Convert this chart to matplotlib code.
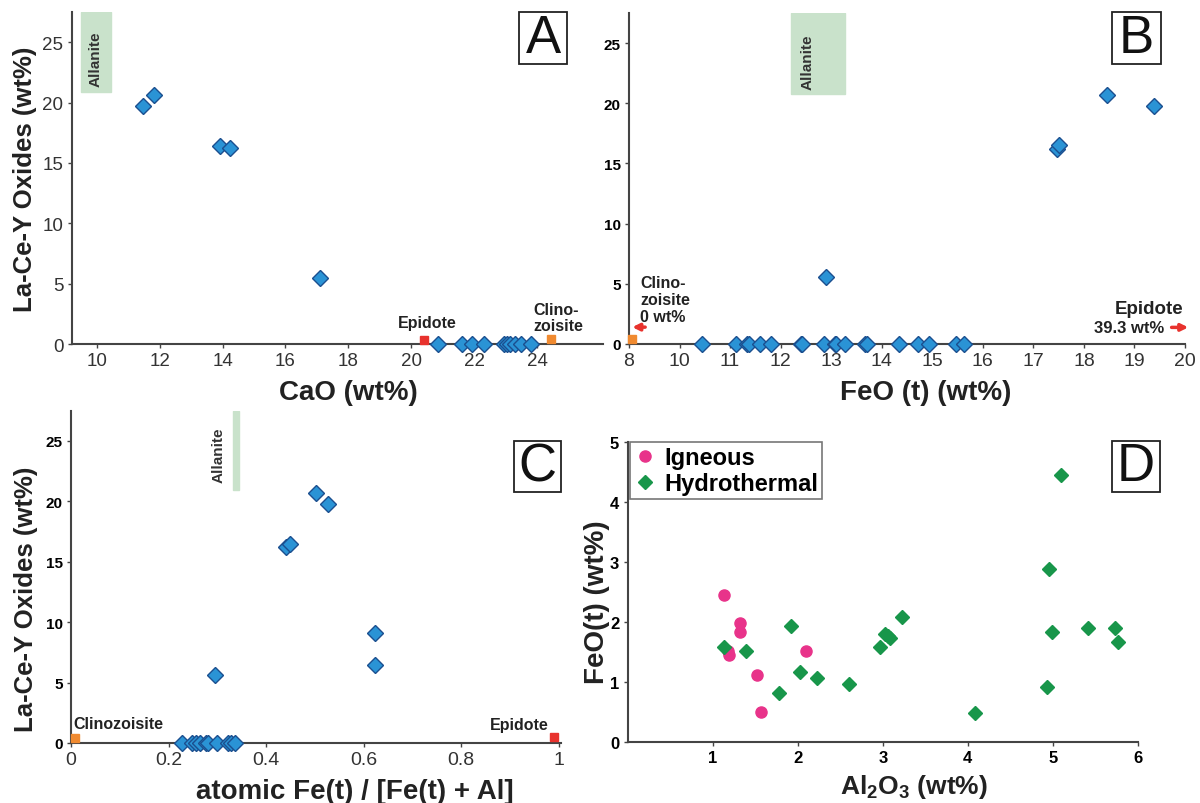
import numpy as np
import matplotlib
matplotlib.use("Agg")
import matplotlib.pyplot as plt
from matplotlib.patches import Rectangle

plt.rcParams['font.family'] = ['Liberation Sans', 'DejaVu Sans']
plt.rcParams['mathtext.fontset'] = 'custom'
plt.rcParams['mathtext.bf'] = 'Liberation Sans:bold'
plt.rcParams['mathtext.rm'] = 'Liberation Sans'

# ---- data ----
# Panel A: CaO vs La-Ce-Y oxides
cao_ree = [11.47, 11.83, 13.92, 14.22, 17.10]
ree_a = [19.7, 20.6, 16.4, 16.2, 5.5]
cao_zero = [20.85, 21.6, 21.92, 22.3, 22.95, 23.05, 23.15, 23.3, 23.5, 23.8]
cao_epidote, cao_clinozoisite = 20.4, 24.45

# Panel B: FeO(t) vs La-Ce-Y oxides
feo_ree = [17.46, 17.50, 18.46, 19.38, 12.90]
ree_b = [16.2, 16.5, 20.65, 19.8, 5.6]
feo_zero = [10.45, 11.12, 11.33, 11.38, 11.6, 11.8, 12.4, 12.42, 12.86, 13.07,
            13.1, 13.28, 13.67, 13.7, 14.35, 14.71, 14.94, 15.47, 15.63]
feo_clinozoisite = 8.1
b_ticks = [8, 10, 11, 12, 13, 14, 15, 16, 17, 18, 19, 20]

# Panel C: Fe/(Fe+Al) vs La-Ce-Y oxides
fe_ratio_ree = [0.502, 0.527, 0.441, 0.449, 0.624, 0.624, 0.296]
ree_c = [20.67, 19.79, 16.26, 16.5, 9.1, 6.42, 5.65]
fe_ratio_zero = [0.228, 0.249, 0.257, 0.264, 0.276, 0.282, 0.300, 0.321, 0.329, 0.337]
fe_ratio_clinozoisite, fe_ratio_epidote = 0.008, 0.99

# Panel D: Al2O3 vs FeO(t)
al_igneous = [1.135, 1.326, 1.326, 1.18, 1.195, 2.10, 1.52, 1.567]
fe_igneous = [2.45, 1.98, 1.84, 1.52, 1.45, 1.52, 1.11, 0.50]
al_hydro = [1.135, 1.39, 1.926, 1.777, 2.03, 2.23, 2.6, 2.963, 3.03, 3.065, 3.09,
            3.228, 4.08, 4.926, 4.953, 4.99, 5.10, 5.414, 5.73, 5.763]
fe_hydro = [1.58, 1.51, 1.93, 0.82, 1.17, 1.07, 0.96, 1.59, 1.81, 1.77, 1.74,
            2.08, 0.49, 0.92, 2.88, 1.84, 4.45, 1.91, 1.91, 1.66]

# ---- styles ----
dia = dict(marker='D', linestyle='none', markersize=8, markerfacecolor='#2a93d5',
           markeredgecolor='#1b4f8f', markeredgewidth=1, clip_on=False, zorder=5)
sq = dict(marker='s', linestyle='none', markersize=6, clip_on=False, zorder=4)
red, orange, green_box = '#e8322d', '#f08a30', '#c9e2cb'
txt = '#222222'
xl_size, yl_size = 20, 18.5

fig = plt.figure(figsize=(12, 8.04), dpi=100)
W, H = 1200, 804


def add_ax(l, r, t, b):
    return fig.add_axes([l / W, 1 - b / H, (r - l) / W, (b - t) / H])


def style(ax):
    for s in ['top', 'right']:
        ax.spines[s].set_visible(False)
    for s in ['left', 'bottom']:
        ax.spines[s].set_color('#444444')
        ax.spines[s].set_linewidth(1.5)
    ax.tick_params(length=3, width=1, color='#444444', pad=3)


def letter(l, t, r, b, s):
    fig.patches.append(Rectangle((l / W, 1 - b / H), (r - l) / W, (b - t) / H,
                                 transform=fig.transFigure, fill=False, lw=1.3,
                                 edgecolor='#222222'))
    fig.text((l + r) / 2 / W, 1 - (t + b) / 2 / H, s, ha='center', va='center',
             fontsize=38, color='#111111')


ylab = 'La-Ce-Y Oxides (wt%)'

# ---- A ----
axA = add_ax(71.7, 603, 13, 345)
style(axA)
axA.set_xlim(9.2, 26.1)
axA.set_ylim(0, 27.5)
axA.set_xticks([10, 12, 14, 16, 18, 20, 22, 24])
axA.set_yticks([0, 5, 10, 15, 20, 25])
axA.tick_params(labelsize=13.5, labelcolor='#333333')
axA.add_patch(Rectangle((9.51, 20.9), 0.93, 6.6, color=green_box, zorder=1))
axA.text(9.97, 23.7, 'Allanite', rotation=90, ha='center', va='center',
         fontsize=11, fontweight='bold', color='#333333')
axA.plot(cao_ree, ree_a, **dia)
axA.plot(cao_zero, np.zeros(len(cao_zero)), **dia)
axA.plot([cao_epidote], [0.3], color=red, **sq)
axA.plot([cao_clinozoisite], [0.4], color=orange, **sq)
axA.text(20.5, 1.75, 'Epidote', ha='center', va='center', fontsize=11.5,
         fontweight='bold', color=txt)
axA.text(23.9, 0.9, 'Clino-\nzoisite', ha='left', va='bottom', fontsize=11.5,
         fontweight='bold', color=txt, linespacing=1.1)
axA.set_xlabel('CaO (wt%)', fontsize=xl_size, fontweight='bold', color='#222222')
axA.xaxis.set_label_coords(0.52, -0.105)
axA.set_ylabel(ylab, fontsize=yl_size, fontweight='bold', color='#222222')
axA.yaxis.set_label_coords(-0.065, 0.5)

# ---- B ----
axB = add_ax(629, 1185, 14, 345)
style(axB)
fwd = lambda x: np.where(np.asarray(x) < 10, 9 + (np.asarray(x) - 8) / 2, x)
inv = lambda c: np.where(np.asarray(c) < 9.999, 8 + (np.asarray(c) - 9) * 2, c)
axB.set_xscale('function', functions=(fwd, inv))
axB.set_xlim(8, 20)
axB.set_ylim(0, 27.5)
axB.set_xticks(b_ticks)
axB.set_xticklabels([str(t) for t in b_ticks])
axB.minorticks_off()
axB.set_yticks([0, 5, 10, 15, 20, 25])
axB.tick_params(axis='x', labelsize=14, labelcolor='#333333')
axB.tick_params(axis='y', labelsize=11)
for lb in axB.get_yticklabels():
    lb.set_fontweight('bold')
axB.add_patch(Rectangle((12.2, 20.8), 1.07, 6.7, color=green_box, zorder=1))
axB.text(12.53, 23.5, 'Allanite', rotation=90, ha='center', va='center',
         fontsize=11, fontweight='bold', color='#333333')
axB.plot(feo_ree, ree_b, **dia)
axB.plot(feo_zero, np.zeros(len(feo_zero)), **dia)
axB.plot([feo_clinozoisite], [0.4], color=orange, **sq)
axB.text(8.45, 1.7, 'Clino-\nzoisite\n0 wt%', ha='left', va='bottom', fontsize=11.5,
         fontweight='bold', color=txt, linespacing=1.15)
axB.annotate('', xy=(8.02, 1.4), xytext=(8.75, 1.4),
             arrowprops=dict(arrowstyle='-|>', color=red, lw=2.5, mutation_scale=10),
             annotation_clip=False)
axB.text(19.96, 2.95, 'Epidote', ha='right', va='center', fontsize=13.5,
         fontweight='bold', color=txt)
axB.text(19.58, 1.38, '39.3 wt%', ha='right', va='center', fontsize=12,
         fontweight='bold', color=txt)
axB.annotate('', xy=(20.12, 1.38), xytext=(19.68, 1.38),
             arrowprops=dict(arrowstyle='-|>', color=red, lw=2.5, mutation_scale=10),
             annotation_clip=False)
axB.set_xlabel('FeO (t) (wt%)', fontsize=xl_size, fontweight='bold', color='#222222')
axB.xaxis.set_label_coords(0.534, -0.105)

# ---- C ----
axC = add_ax(71, 561, 411.7, 744)
style(axC)
axC.set_xlim(0, 1.005)
axC.set_ylim(0, 27.5)
axC.set_xticks([0, 0.2, 0.4, 0.6, 0.8, 1])
axC.set_xticklabels(['0', '0.2', '0.4', '0.6', '0.8', '1'])
axC.set_yticks([0, 5, 10, 15, 20, 25])
axC.tick_params(axis='x', labelsize=14, labelcolor='#333333')
axC.tick_params(axis='y', labelsize=11)
for lb in axC.get_yticklabels():
    lb.set_fontweight('bold')
axC.add_patch(Rectangle((0.332, 20.9), 0.013, 6.6, color=green_box, zorder=1))
axC.text(0.303, 23.9, 'Allanite', rotation=90, ha='center', va='center',
         fontsize=11, fontweight='bold', color='#333333')
axC.plot(fe_ratio_ree, ree_c, **dia)
axC.plot(fe_ratio_zero, np.zeros(len(fe_ratio_zero)), **dia)
axC.plot([fe_ratio_clinozoisite], [0.4], color=orange, **sq)
axC.plot([fe_ratio_epidote], [0.5], color=red, **sq)
axC.text(0.004, 1.6, 'Clinozoisite', ha='left', va='center', fontsize=11.5,
         fontweight='bold', color=txt)
axC.text(0.98, 1.5, 'Epidote', ha='right', va='center', fontsize=11.5,
         fontweight='bold', color=txt)
axC.set_xlabel('atomic Fe(t) / [Fe(t) + Al]', fontsize=xl_size, fontweight='bold',
               color='#222222')
axC.xaxis.set_label_coords(0.58, -0.105)
axC.set_ylabel(ylab, fontsize=yl_size, fontweight='bold', color='#222222')
axC.yaxis.set_label_coords(-0.067, 0.435)

# ---- D ----
axD = add_ax(627.6, 1138, 443.3, 743)
style(axD)
axD.set_xlim(0, 6)
axD.set_ylim(0, 5)
axD.set_xticks([1, 2, 3, 4, 5, 6])
axD.set_yticks([0, 1, 2, 3, 4, 5])
axD.tick_params(labelsize=12)
for lb in axD.get_xticklabels() + axD.get_yticklabels():
    lb.set_fontweight('bold')
axD.plot(al_igneous, fe_igneous, marker='o', linestyle='none', markersize=8,
         color='#e8338a', label='Igneous', zorder=4)
axD.plot(al_hydro, fe_hydro, marker='D', linestyle='none', markersize=7.5,
         color='#18964a', label='Hydrothermal', zorder=4)
leg = axD.legend(loc='upper left', bbox_to_anchor=(0.005, 1.0), fancybox=False,
                 edgecolor='#777777', framealpha=1, handletextpad=0.3,
                 borderpad=0.15, handlelength=1.0, labelspacing=0.15, borderaxespad=0,
                 prop=dict(size=17, weight='bold'))
leg.get_frame().set_linewidth(1.2)
axD.set_xlabel(r'Al$_{\mathbf{2}}$O$_{\mathbf{3}}$ (wt%)', fontsize=19,
               fontweight='bold', color='#222222')
axD.xaxis.set_label_coords(0.56, -0.1)
axD.set_ylabel('FeO(t) (wt%)', fontsize=xl_size, fontweight='bold', color='#222222')
axD.yaxis.set_label_coords(-0.035, 0.47)

# ---- panel letters ----
letter(519, 13, 567, 65, 'A')
letter(1112, 13, 1161, 65, 'B')
letter(514, 442, 561, 493, 'C')
letter(1112, 442, 1160, 493, 'D')

fig.savefig('out.png', dpi=100)
